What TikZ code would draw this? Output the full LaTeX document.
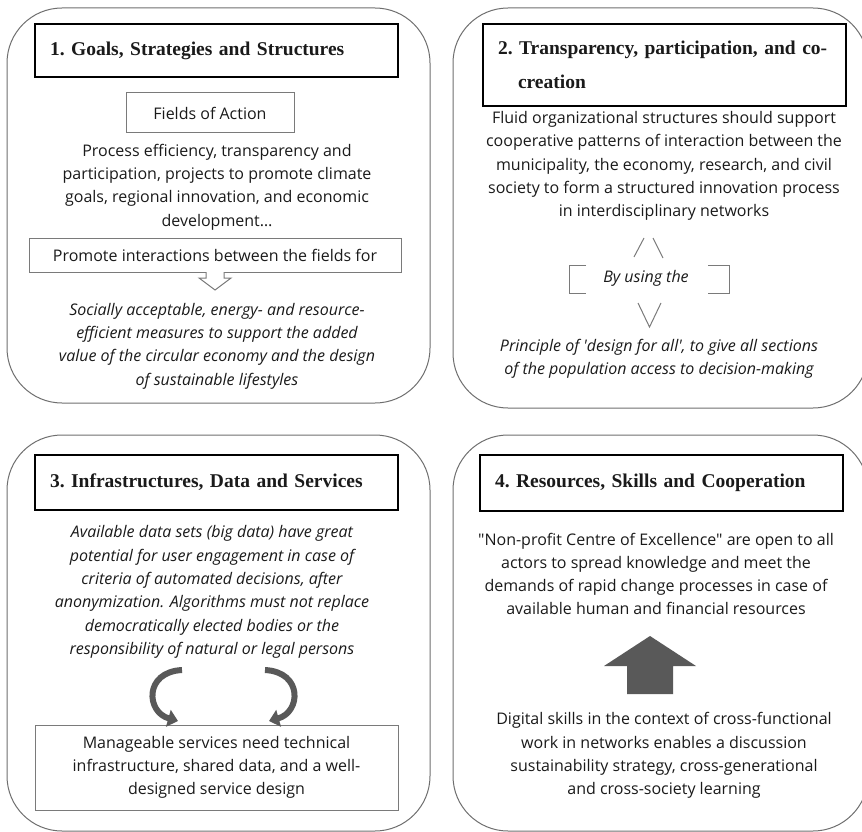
\documentclass[tikz,border=0pt]{standalone}
\usepackage{fontspec}
\setmainfont{Open Sans}[Ligatures=TeXOff]
\newfontfamily\titlefont{Liberation Serif}
\usetikzlibrary{arrows.meta}
\definecolor{txt}{HTML}{1A1A1A}
\definecolor{panelc}{HTML}{6E6E6E}
\definecolor{boxc}{HTML}{7A7A7A}
\definecolor{arrc}{HTML}{595959}
\begin{document}
\begin{tikzpicture}[x=1pt,y=-1pt,
 panel/.style={draw=panelc, line width=1pt, rounded corners=55pt},
 titlebox/.style={draw=black, line width=1.2pt, inner xsep=15pt, inner ysep=0pt, align=left, text=txt,
   font=\titlefont\bfseries\fontsize{19.5}{34}\selectfont\frenchspacing},
 innerbox/.style={draw=boxc, line width=1pt, inner sep=0pt, align=center, text=txt,
   font=\fontsize{16}{23.3}\selectfont},
 body/.style={align=center, text=txt, font=\fontsize{16}{23.3}\selectfont, inner sep=0pt},
 ibody/.style={body, font=\fontsize{16}{23.3}\selectfont\itshape},
 curv/.style={draw=arrc, line width=6pt, -{Triangle[width=17pt,length=10pt]}},
 thin/.style={draw=boxc, line width=1pt}
]
\useasboundingbox (0,0) rectangle (862,832);
% panels
\draw[panel] (7,8) rectangle (430,403);
\draw[panel] (453,8) rectangle (868,408);
\draw[panel] (7,435) rectangle (430,831);
\draw[panel] (453,435) rectangle (868,831);

% ---- panel 1
\node[titlebox, minimum width=363pt, minimum height=53pt, text width=333pt] (t1) at (216.5,50.5)
  {1. Goals, Strategies and Structures};
\node[innerbox, minimum width=168pt, minimum height=40pt] (foa) at (210,113) {Fields of Action};
\node[body] (p1a) at (217,187) {Process efficiency, transparency and\\participation, projects to promote climate\\goals, regional innovation, and economic\\development…};
\node[innerbox, minimum width=372pt, minimum height=34pt] (prom) at (215,255) {Promote interactions between the fields for};
\node[ibody] (p1b) at (217,346) {Socially acceptable, energy- and resource-\\efficient measures to support the added\\value of the circular economy and the design\\of sustainable lifestyles};
\draw[thin, fill=white] (206,272) -- (206,278) -- (199,278) -- (215,290) -- (231,278) -- (224,278) -- (224,272);

% ---- panel 2
\node[titlebox, minimum width=363pt, minimum height=82pt, text width=333pt] (t2) at (664.5,65)
  {2. Transparency, participation, and co-\\\hspace*{20pt}creation};
\node[body] (p2a) at (664,166) {Fluid organizational structures should support\\cooperative patterns of interaction between the\\municipality, the economy, research, and civil\\society to form a structured innovation process\\in interdisciplinary networks};
\node[ibody] (byu) at (646,278) {By using the};
\node[ibody] (p2b) at (659,358.5) {Principle of 'design for all', to give all sections\\of the population access to decision-making};
\coordinate (ua) at (634,257); \coordinate (ub) at (644,238);
\coordinate (uc) at (653,238); \coordinate (ud) at (663,258);
\draw[thin] (ua) -- (ub);
\draw[thin] (uc) -- (ud);
\coordinate (va) at (638,303); \coordinate (vb) at (649.5,327); \coordinate (vc) at (661,303);
\draw[thin] (va) -- (vb) -- (vc);
\draw[thin] (586,265) -- (569,265) -- (569,293) -- (586,293);
\draw[thin] (708,265) -- (729,265) -- (729,293) -- (708,293);

% ---- panel 3
\node[titlebox, minimum width=363pt, minimum height=55pt, text width=333pt] (t3) at (216.5,482.5)
  {3. Infrastructures, Data and Services};
\node[ibody] (p3a) at (212,592) {Available data sets (big data) have great\\potential for user engagement in case of\\criteria of automated decisions, after\\anonymization. Algorithms must not replace\\democratically elected bodies or the\\responsibility of natural or legal persons};
\node[innerbox, minimum width=363pt, minimum height=85pt] (p3b) at (216.5,767.5) {Manageable services need technical\\infrastructure, shared data, and a well-\\designed service design};
\coordinate (la) at (182,670); \coordinate (lb) at (178,721);
\coordinate (ra) at (265,670); \coordinate (rb) at (269,721);
\draw[curv] (la) .. controls (144,672) and (146,712) .. (lb);
\draw[curv] (ra) .. controls (303,672) and (301,712) .. (rb);

% ---- panel 4
\node[titlebox, minimum width=363pt, minimum height=56pt, text width=333pt] (t4) at (661.5,483)
  {4. Resources, Skills and Cooperation};
\node[body] (p4a) at (656,574) {"Non-profit Centre of Excellence" are open to all\\actors to spread knowledge and meet the\\demands of rapid change processes in case of\\available human and financial resources};
\node[body] (p4b) at (664,755.5) {Digital skills in the context of cross-functional\\work in networks enables a discussion\\sustainability strategy, cross-generational\\and cross-society learning};
\fill[arrc] (627,694) -- (627,666) -- (604,666) -- (650,636) -- (696,666) -- (673,666) -- (673,694) -- cycle;
\end{tikzpicture}
\end{document}
